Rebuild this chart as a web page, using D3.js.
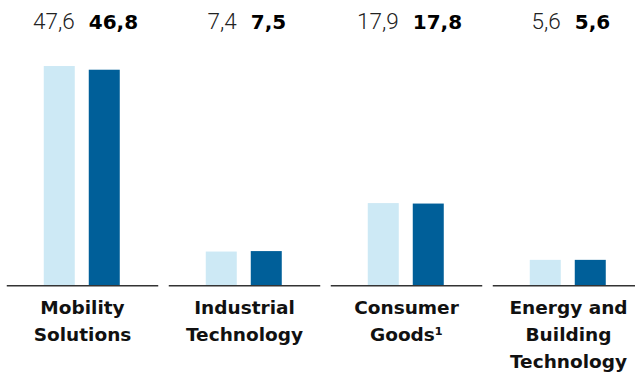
<!DOCTYPE html>
<html>
<head>
<meta charset="utf-8">
<script src="https://cdn.jsdelivr.net/npm/d3@7"></script>
<style>
  html, body { margin: 0; padding: 0; background: #fff; }
  svg { display: block; }
</style>
</head>
<body>
<svg id="chart" width="635" height="374"></svg>
<script>
// Sales by business sector, previous year vs. current year (billions of euros)
const sectors = ["Mobility Solutions", "Industrial Technology", "Consumer Goods", "Energy and Building Technology"];
const sectorLines = [
  ["Mobility", "Solutions"],
  ["Industrial", "Technology"],
  ["Consumer", "Goods¹"],
  ["Energy and", "Building", "Technology"]
];
const seriesKeys = ["previous", "current"];
const previousYear = [47.6, 7.4, 17.9, 5.6];
const currentYear = [46.8, 7.5, 17.8, 5.6];
const valueLabelsPrev = ["47,6", "7,4", "17,9", "5,6"];
const valueLabelsCurr = ["46,8", "7,5", "17,8", "5,6"];

const colors = { previous: "#cde9f5", current: "#005f99" };

const svg = d3.select("#chart");
const baseY = 285.7;

const x0 = d3.scaleBand()
  .domain(sectors)
  .range([1.5, 649.5])
  .paddingInner(0.065)
  .paddingOuter(0.0325);

const x1 = d3.scaleBand()
  .domain(seriesKeys)
  .range([30, 120])
  .paddingInner(0.311)
  .paddingOuter(0.1556);

const y = d3.scaleLinear()
  .domain([0, 50])
  .range([baseY, baseY - 50 * 4.615]);

const data = sectors.map((s, i) => ({
  sector: s,
  lines: sectorLines[i],
  values: [
    { key: "previous", value: previousYear[i], label: valueLabelsPrev[i] },
    { key: "current", value: currentYear[i], label: valueLabelsCurr[i] }
  ]
}));

const groups = svg.selectAll("g.sector")
  .data(data)
  .join("g")
  .attr("class", "sector")
  .attr("transform", d => `translate(${x0(d.sector)},0)`);

// bars
groups.selectAll("rect")
  .data(d => d.values)
  .join("rect")
  .attr("x", d => x1(d.key))
  .attr("width", x1.bandwidth())
  .attr("y", d => y(d.value))
  .attr("height", d => y(0) - y(d.value))
  .attr("fill", d => colors[d.key]);

// baseline segment under each sector
groups.append("line")
  .attr("x1", 0)
  .attr("x2", x0.bandwidth())
  .attr("y1", baseY)
  .attr("y2", baseY)
  .attr("stroke", "#333")
  .attr("stroke-width", 1.5);

// value labels above the chart
groups.selectAll("text.val")
  .data(d => d.values)
  .join("text")
  .attr("class", "val")
  .attr("x", d => d.key === "previous" ? x1(d.key) + x1.bandwidth() : x1(d.key))
  .attr("y", 29.3)
  .attr("text-anchor", d => d.key === "previous" ? "end" : "start")
  .attr("font-family", d => d.key === "previous" ? "Roboto, 'Liberation Sans', sans-serif" : "'DejaVu Sans', sans-serif")
  .attr("font-weight", d => d.key === "previous" ? 300 : 700)
  .attr("font-size", d => d.key === "previous" ? "22.5px" : "20px")
  .attr("fill", d => d.key === "previous" ? "#222" : "#000")
  .text(d => d.label);

// category labels
groups.append("text")
  .attr("x", x0.bandwidth() / 2)
  .attr("text-anchor", "middle")
  .attr("font-family", "'DejaVu Sans', sans-serif")
  .attr("font-weight", 700)
  .attr("font-size", "18.5px")
  .attr("fill", "#111")
  .selectAll("tspan")
  .data(d => d.lines)
  .join("tspan")
  .attr("x", x0.bandwidth() / 2)
  .attr("y", (d, i) => 314 + i * 27)
  .text(d => d);
</script>
</body>
</html>
